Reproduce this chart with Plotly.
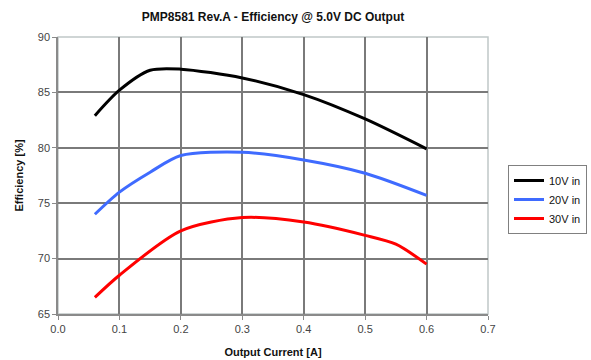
import plotly.graph_objects as go

x_10v = [0.06, 0.1, 0.15, 0.2, 0.3, 0.4, 0.5, 0.6]
y_10v = [82.9, 85.2, 87.0, 87.1, 86.3, 84.8, 82.6, 79.9]
x_20v = [0.06, 0.1, 0.15, 0.2, 0.3, 0.4, 0.5, 0.6]
y_20v = [74.0, 76.0, 77.8, 79.3, 79.6, 78.9, 77.7, 75.7]
x_30v = [0.06, 0.1, 0.2, 0.3, 0.4, 0.5, 0.55, 0.6]
y_30v = [66.5, 68.5, 72.5, 73.7, 73.3, 72.1, 71.3, 69.5]

series = [("10V in", x_10v, y_10v, "#000000"),
          ("20V in", x_20v, y_20v, "#3f6bff"),
          ("30V in", x_30v, y_30v, "#ff0000")]

title = "PMP8581 Rev.A - Efficiency @ 5.0V DC Output"
x_title = "Output Current [A]"
y_title = "Efficiency [%]"

fig = go.Figure()
for name, xs, ys, col in series:
    fig.add_trace(go.Scatter(x=xs, y=ys, mode="lines", name=name,
                             line=dict(color=col, width=3, shape="spline", smoothing=0.8)))

font = "Liberation Sans, Arial, sans-serif"
fig.update_layout(
    width=591, height=360,
    margin=dict(l=58, r=103, t=37, b=46),
    paper_bgcolor="white", plot_bgcolor="white",
    font=dict(family=font, size=11, color="#444444"),
    title=dict(text="<b>" + title + "</b>", x=(58 + 488) / 2 / 591, xanchor="center",
               y=1 - 17 / 360, yanchor="middle", font=dict(size=12, color="#111111")),
    showlegend=True,
    legend=dict(x=508 / 591, xanchor="left", y=1 - 165 / 360, yanchor="top",
                xref="container", yref="container",
                bordercolor="#808080", borderwidth=1, bgcolor="white",
                font=dict(size=11, color="#111111"), tracegroupgap=0,
                itemwidth=30),
)
fig.update_xaxes(range=[0, 0.7], dtick=0.1, tickformat=".1f", automargin=False,
                 showgrid=True, gridcolor="#7a7a7a", gridwidth=1.5,
                 showline=True, linecolor="#8a8a8a", linewidth=1.5, mirror=False,
                 ticks="outside", ticklen=4, tickcolor="#8a8a8a",
                 zeroline=False,
                 title=dict(text="<b>" + x_title + "</b>", font=dict(size=11, color="#111111"), standoff=14))
fig.update_yaxes(range=[65, 90], dtick=5, automargin=False,
                 showgrid=True, gridcolor="#7a7a7a", gridwidth=1.5,
                 showline=True, linecolor="#8a8a8a", linewidth=1.5,
                 ticks="outside", ticklen=4, tickcolor="#8a8a8a",
                 zeroline=False,
                 title=dict(text="<b>" + y_title + "</b>", font=dict(size=11, color="#111111"), standoff=12))
# light outer frame on top/right
fig.add_shape(type="rect", xref="paper", yref="paper", x0=0, y0=0, x1=1, y1=1,
              line=dict(color="#c0c8c8", width=1.5), layer="below")
fig.write_html("out.html")
